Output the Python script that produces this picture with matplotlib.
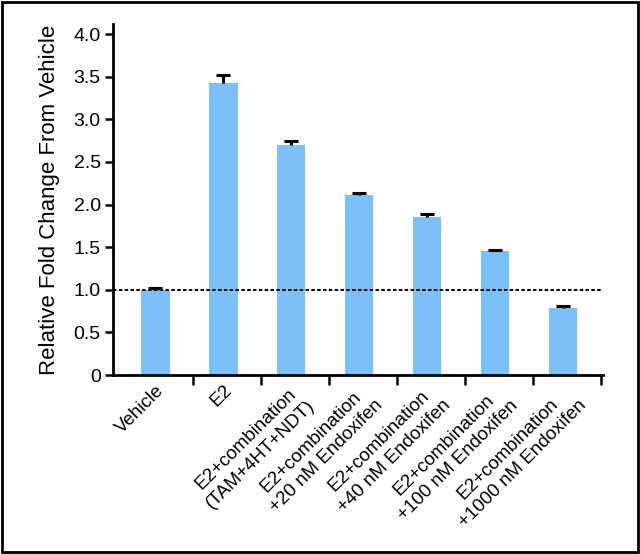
import numpy as np
import matplotlib.pyplot as plt
from matplotlib.patches import Rectangle

groups = ['Vehicle', 'E2', 'E2+combination\n(TAM+4HT+NDT)',
          'E2+combination\n+20 nM Endoxifen', 'E2+combination\n+40 nM Endoxifen',
          'E2+combination\n+100 nM Endoxifen', 'E2+combination\n+1000 nM Endoxifen']
fold_change = [1.00, 3.42, 2.70, 2.11, 1.85, 1.45, 0.79]
sem = [0.02, 0.10, 0.05, 0.02, 0.04, 0.02, 0.02]

plt.rcParams['font.family'] = ['Liberation Sans', 'DejaVu Sans']

fig = plt.figure(figsize=(6.4, 5.54), dpi=100)
ax = fig.add_axes([0.177, 0.323, 0.765, 0.634])

x = np.arange(len(groups))
ax.bar(x, fold_change, width=0.42, color='#7dbff8', zorder=2)
# upper error only: stem plus a cap on top
_, caps, _ = ax.errorbar(x, fold_change, yerr=[np.zeros(len(sem)), sem], fmt='none',
                         ecolor='black', elinewidth=2.2, capsize=5, capthick=2.2, zorder=3)
caps[0].set_visible(False)

ax.axhline(1.0, color='black', linestyle=(0, (1.8, 1.2)), linewidth=1.4, zorder=4)

ax.set_xlim(-0.62, 6.59)
ax.set_ylim(0, 4.12)
ax.set_yticks(np.arange(0, 4.01, 0.5))
ax.set_yticklabels(['0'] + ['%.1f' % v for v in np.arange(0.5, 4.01, 0.5)])
ax.set_ylabel('Relative Fold Change From Vehicle', fontsize=16, labelpad=10)

ax.set_xticks(x)
ax.set_xticklabels(groups, rotation=45, ha='right', va='top', rotation_mode='anchor',
                   multialignment='center', fontsize=13.5, linespacing=1.3)
ax.tick_params(axis='x', which='major', length=0, pad=5)
ax.set_xticks(x + 0.56, minor=True)
ax.tick_params(axis='x', which='minor', length=7, width=1.8, direction='out')
ax.tick_params(axis='y', length=6, width=1.8, labelsize=14, pad=3)

for s in ['top', 'right']:
    ax.spines[s].set_visible(False)
for s in ['left', 'bottom']:
    ax.spines[s].set_linewidth(2)

fig.patches.append(Rectangle((0.003, 0.003), 0.994, 0.994, transform=fig.transFigure,
                             fill=False, edgecolor='black', linewidth=2))

fig.savefig('out.png', dpi=100)
